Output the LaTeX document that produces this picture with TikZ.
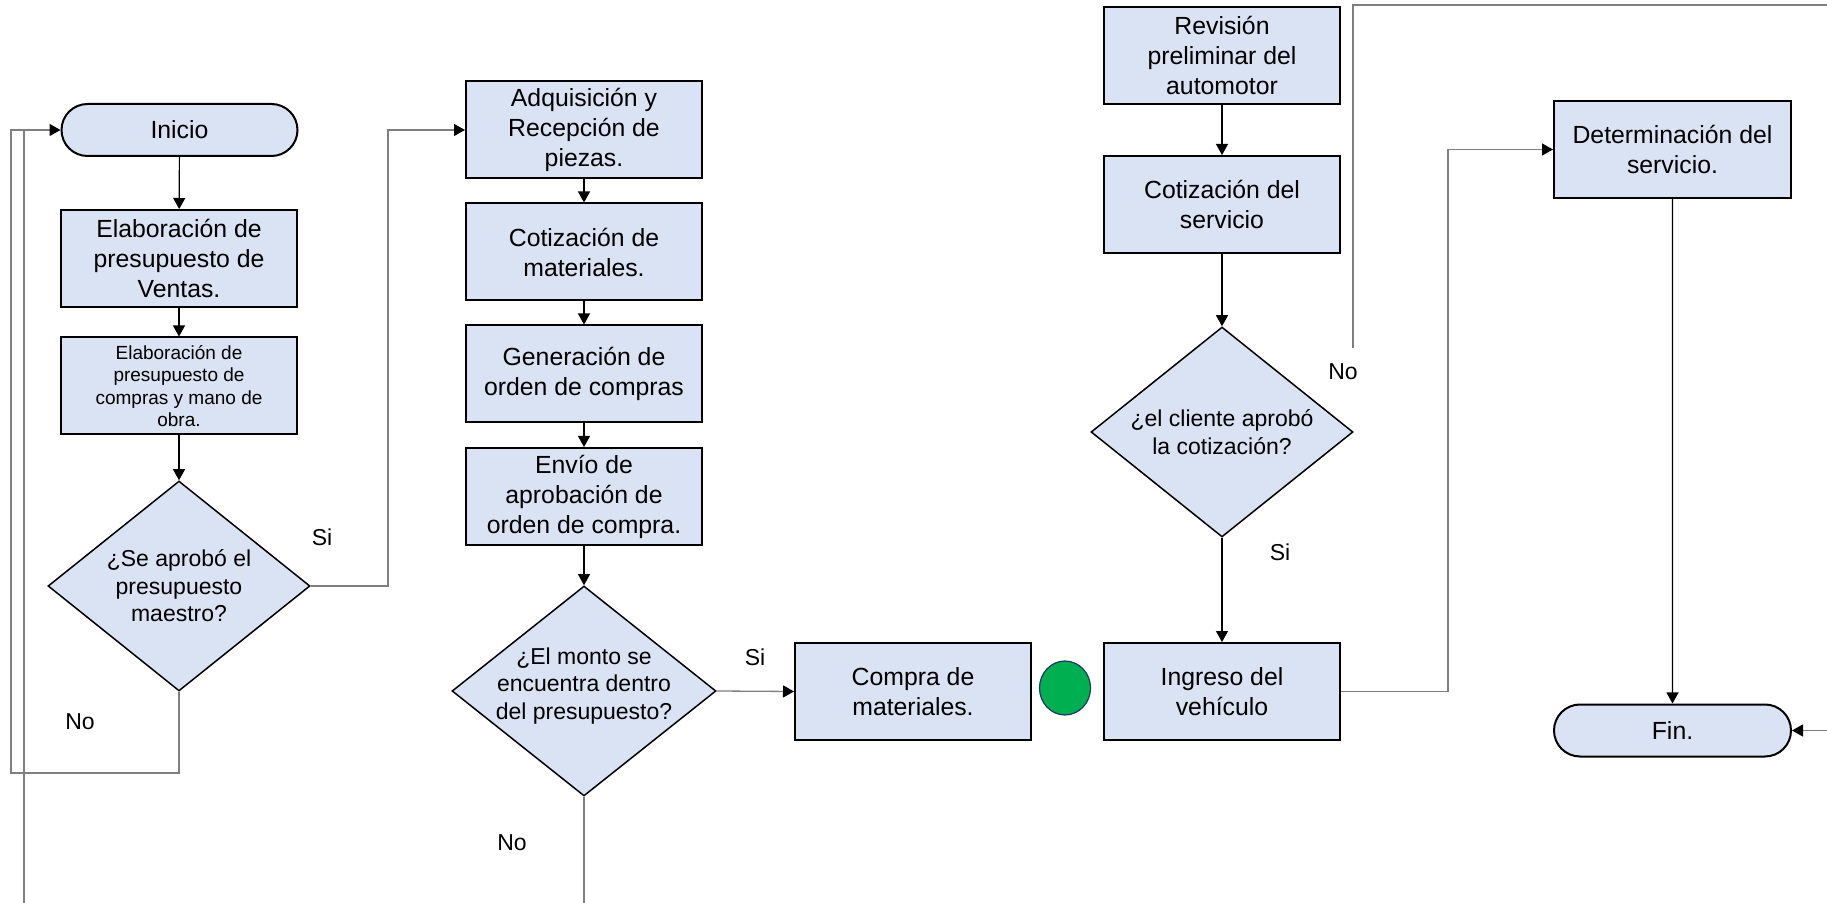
\documentclass[tikz,border=0pt]{standalone}
\usepackage{fontspec}
\setmainfont{Liberation Sans}
\usetikzlibrary{shapes.geometric,shapes.misc,arrows.meta}
\definecolor{boxfill}{HTML}{DAE3F3}
\definecolor{okgreen}{HTML}{00B050}
\definecolor{navyline}{HTML}{1F3864}
\definecolor{loopgray}{HTML}{7F7F7F}
\begin{document}
\begin{tikzpicture}[x=0.5pt,y=-0.5pt,
  proc/.style={draw=black, line width=1pt, fill=boxfill, minimum width=118pt, minimum height=48.5pt, inner sep=0pt, align=center, font=\fontsize{12.4}{15}\selectfont},
  smallproc/.style={proc, font=\fontsize{9.5}{11.25}\selectfont},
  term/.style={rounded rectangle, draw=black, line width=1pt, fill=boxfill, minimum width=118pt, minimum height=26pt, inner sep=0pt, font=\fontsize{12.4}{15}\selectfont},
  decision/.style={diamond, draw=black, line width=0.75pt, fill=boxfill, minimum width=131pt, minimum height=105pt, inner sep=0pt},
  dtext/.style={align=center, font=\fontsize{11.5}{13.75}\selectfont, inner sep=0pt},
  lbl/.style={font=\fontsize{11.5}{13.75}\selectfont, inner sep=0pt},
  flow/.style={-{Triangle[length=5.5pt,width=6pt]}, line width=0.6pt, draw=black},
  loopline/.style={line width=0.65pt, draw=loopgray},
  looparrow/.style={loopline, -{Triangle[length=5.5pt,width=6pt,color=black]}}
]
\useasboundingbox (0,0) rectangle (1827,903);

% left column
\node[term] (ini) at (179.5,130) {Inicio};
\node[proc] (b1) at (179,258.5) {Elaboración de\\presupuesto de\\Ventas.};
\node[smallproc] (b2) at (179,386) {Elaboración de\\presupuesto de\\compras y mano de\\obra.};
\node[decision] (d1) at (179,586) {};
\node[dtext] (d1t) at (179,586) {¿Se aprobó el\\presupuesto\\maestro?};

% middle column
\node[proc] (adq) at (584,130) {Adquisición y\\Recepción de\\piezas.};
\node[proc] (cotm) at (584,252) {Cotización de\\materiales.};
\node[proc] (gen) at (584,374) {Generación de\\orden de compras};
\node[proc] (env) at (584,496.5) {Envío de\\aprobación de\\orden de compra.};
\node[decision, minimum width=132pt] (d2) at (584,691) {};
\node[dtext] (d2t) at (584,686) {¿El monto se\\encuentra dentro\\del presupuesto?};
\node[proc] (comp) at (913,691.5) {Compra de\\materiales.};
\node[ellipse, draw=navyline, line width=0.6pt, fill=okgreen, minimum width=25.5pt, minimum height=27pt, inner sep=0pt] (dot) at (1065,688) {};

% right column
\node[proc] (rev) at (1222,55.5) {Revisión\\preliminar del\\automotor};
\node[proc] (cots) at (1222,204.5) {Cotización del\\servicio};
\node[decision] (d3) at (1222,432) {};
\node[dtext] (d3t) at (1222,432) {¿el cliente aprobó\\la cotización?};
\node[proc] (ing) at (1222,691.5) {Ingreso del\\vehículo};
\node[proc, minimum width=118.5pt] (det) at (1672.5,149.5) {Determinación del\\servicio.};
\node[term, minimum width=118.5pt] (fin) at (1672.5,730.5) {Fin.};

% labels
\node[lbl] (l1) at (322,537) {Si};
\node[lbl] (l2) at (80,722) {No};
\node[lbl] (l3) at (755,657) {Si};
\node[lbl] (l4) at (512,843) {No};
\node[lbl] (l5) at (1343,372) {No};
\node[lbl] (l6) at (1280,552) {Si};

% free ends
\coordinate (bot1) at (24,903);
\coordinate (bot2) at (584,903);
\coordinate (n1) at (1353,348);
\coordinate (n2) at (1827,5);
\coordinate (fr) at (1827,730.5);

% straight flow arrows
\draw[flow] (ini) -- (b1);
\draw[flow] (b1) -- (b2);
\draw[flow] (b2) -- (d1);
\draw[flow] (adq) -- (cotm);
\draw[flow] (cotm) -- (gen);
\draw[flow] (gen) -- (env);
\draw[flow] (env) -- (d2);
\draw[flow] (rev) -- (cots);
\draw[flow] (cots) -- (d3);
\draw[flow] (d3) -- (ing);
\draw[flow] (det) -- (fin);

% elbow connectors
\draw[looparrow] (d1.east) -- (388,586) |- (adq.west);
\draw[looparrow] (d1.south) |- (11,773) |- (ini.west);
\draw[loopline] (bot1) -- (bot1 |- ini.west);
\draw[looparrow] (d2.east) -- (comp.west);
\draw[loopline] (d2.south) -- (bot2);
\draw[loopline] (n1) |- (n2);
\draw[looparrow] (ing.east) -- (1448,691.5) |- (det.west);
\draw[looparrow] (fr) -- (fin.east);
\end{tikzpicture}
\end{document}
